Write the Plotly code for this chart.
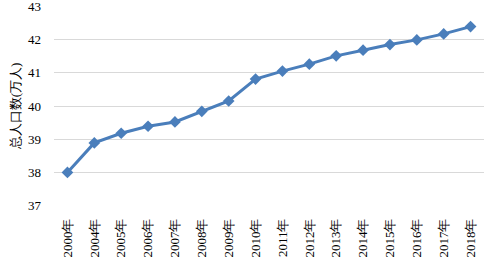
import plotly.graph_objects as go

years = ["2000年", "2004年", "2005年", "2006年", "2007年", "2008年", "2009年", "2010年",
         "2011年", "2012年", "2013年", "2014年", "2015年", "2016年", "2017年", "2018年"]
population = [38.00, 38.89, 39.18, 39.39, 39.52, 39.84, 40.15, 40.81,
              41.05, 41.26, 41.51, 41.68, 41.85, 41.99, 42.17, 42.39]
y_ticks = [37, 38, 39, 40, 41, 42, 43]
y_title = "总人口数(万人)"

font_family = "Liberation Serif"

fig = go.Figure(go.Scatter(
    x=years, y=population, mode="lines+markers",
    line=dict(color="#4A7EBB", width=3),
    marker=dict(symbol="diamond", size=9, color="#4A7EBB"),
))

fig.update_layout(
    width=491, height=260,
    margin=dict(l=54, r=7, t=6, b=54, autoexpand=False),
    paper_bgcolor="white", plot_bgcolor="white",
    showlegend=False,
    font=dict(family=font_family, size=13, color="#000000"),
)
fig.update_xaxes(
    type="category", range=[-0.5, len(years) - 0.5], tickangle=-90,
    showgrid=False, showline=False,
    tickfont=dict(size=13), ticklabelstandoff=9, automargin=False,
    ticklabeloverflow="allow",
)
fig.update_yaxes(
    range=[36.99, 43.01], tickvals=y_ticks, showgrid=True, gridcolor="#D9D9D9", gridwidth=1,
    zeroline=False, showline=False, tickfont=dict(size=13), ticklabelstandoff=12,
    automargin=False, ticklabeloverflow="allow",
)
fig.add_annotation(
    text=y_title, textangle=-90, xref="paper", yref="paper",
    x=-0.09, y=0.5, xanchor="center", yanchor="middle", showarrow=False,
    font=dict(size=13, family=font_family),
)

fig.write_html("out.html", config={"displayModeBar": False},
               post_script="document.body.style.margin='0px';")
